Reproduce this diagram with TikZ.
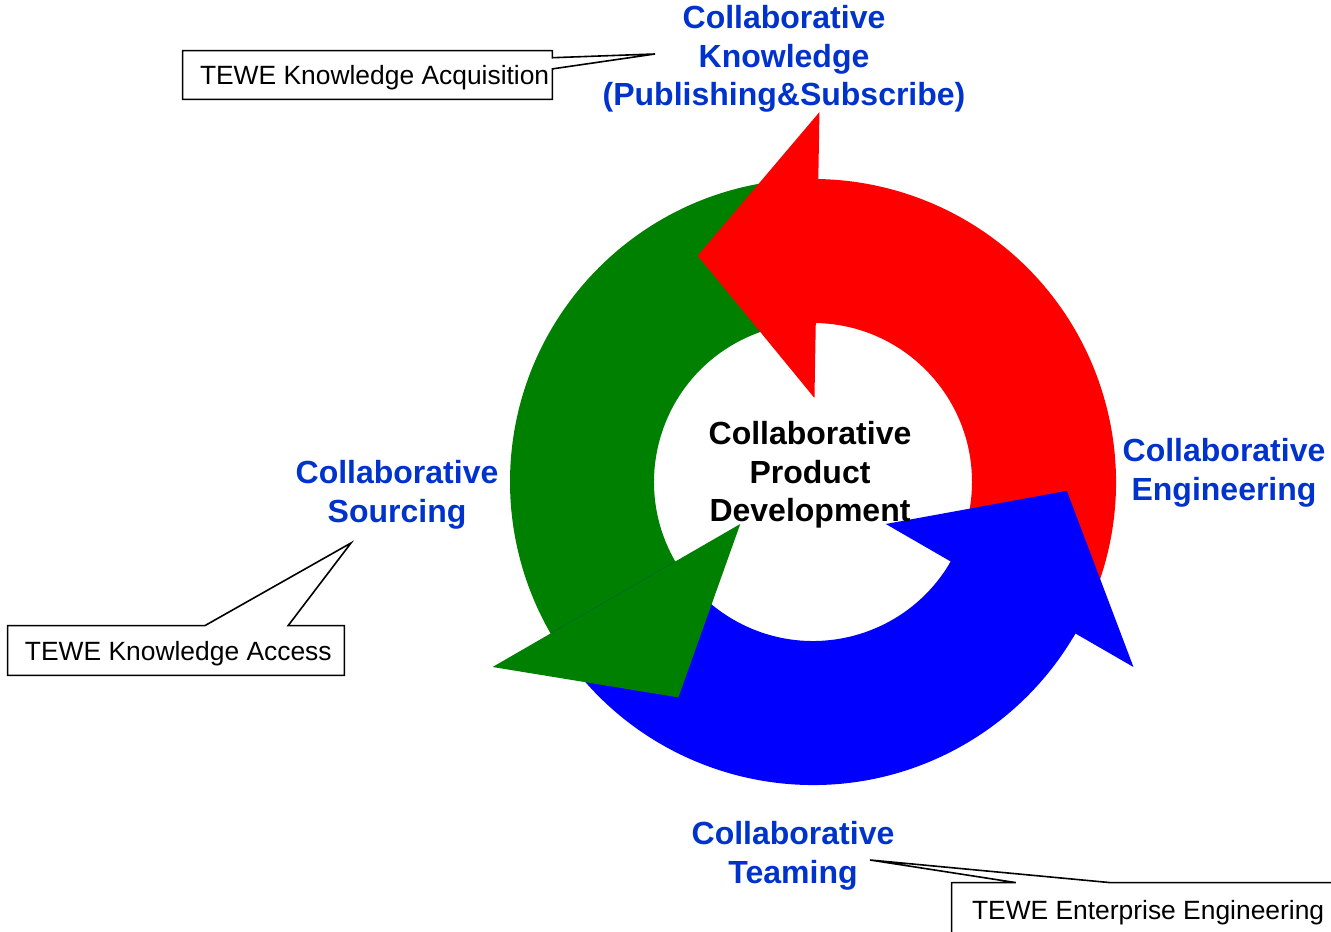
\documentclass[tikz,border=0pt]{standalone}
\usepackage{fontspec}
\setmainfont{Liberation Sans}
\usepackage{tikz}
\usetikzlibrary{calc}
\definecolor{arrowred}{RGB}{255,0,0}
\definecolor{arrowgreen}{RGB}{0,128,0}
\definecolor{arrowblue}{RGB}{0,0,255}
\definecolor{labelblue}{RGB}{0,51,204}

\begin{document}
\begin{tikzpicture}[x=0.5pt,y=0.5pt,
    cyclelabel/.style={text=labelblue, font=\fontsize{16}{19.25}\selectfont\bfseries, align=center},
    tewebox/.style={font=\fontsize{13.2}{15.8}\selectfont, inner sep=0pt, text depth=0pt},
    outline/.style={draw=black, line width=0.8pt, line join=miter}]
      % Sizes
      \pgfmathsetmacro{\outerr}{303}
      \pgfmathsetmacro{\innerr}{159}
      \pgfmathsetmacro{\barbout}{370}
      \pgfmathsetmacro{\barbin}{84}
      \pgfmathsetmacro{\tipr}{254}
      \pgfmathsetmacro{\tipang}{28}
      \useasboundingbox (0,0) rectangle (1331,931);
      \coordinate (c) at (813,449);

      % bands
      \foreach \base/\col in {89/arrowred,210/arrowgreen,330/arrowblue}{
        \fill[\col] ($(c)+(\base-120:\outerr)$) arc[start angle=\base-120, end angle=\base+1, radius=\outerr]
          -- ($(c)+(\base+1:\innerr)$) arc[start angle=\base+1, end angle=\base-120, radius=\innerr] -- cycle;
      }
      % heads
      \foreach \base/\col in {89/arrowred,210/arrowgreen,330/arrowblue}{
        \fill[\col] ($(c)+(\base:\barbin)$) -- ($(c)+(\base+\tipang:\tipr)$) -- ($(c)+(\base:\barbout)$) -- cycle;
      }

      % labels
      \node[cyclelabel, text=black] (cpd) at (810,456) {Collaborative\\Product\\Development};
      \node[cyclelabel] (know) at (784,872) {Collaborative\\Knowledge\\(Publishing\&Subscribe)};
      \node[cyclelabel] (eng) at (1224,458) {Collaborative\\Engineering};
      \node[cyclelabel] (sourcing) at (397,436) {Collaborative\\Sourcing};
      \node[cyclelabel] (teaming) at (793,75) {Collaborative\\Teaming};

      % callouts
      \node[tewebox, minimum height=24pt] (acq) at (367.5,856) {\makebox[184.5pt][l]{\hspace*{8.5pt}TEWE Knowledge Acquisition}};
      \node[tewebox, minimum height=24.5pt] (access) at (176,280.5) {\makebox[168pt][l]{\hspace*{8.5pt}TEWE Knowledge Access}};
      \node[tewebox, minimum height=27pt] (entbox) at (1148.5,21) {\makebox[196.5pt][l]{\hspace*{10pt}TEWE Enterprise Engineering}};
      \coordinate (acqtip) at (655,877);
      \coordinate (accesstip) at (351,388);
      \coordinate (enttip) at (870,71);
      \draw[outline] (acq.north west) -- (acq.north east) -- ($(acq.north east)!0.146!(acq.south east)$)
        -- (acqtip) -- ($(acq.north east)!0.375!(acq.south east)$) -- (acq.south east) -- (acq.south west) -- cycle;
      \draw[outline] (access.south west) -- (access.north west) -- ($(access.north west)!0.586!(access.north east)$)
        -- (accesstip) -- ($(access.north west)!0.833!(access.north east)$) -- (access.north east) -- (access.south east) -- cycle;
      \draw[outline] (entbox.south west) -- (entbox.north west) -- ($(entbox.north west)!0.163!(entbox.north east)$)
        -- (enttip) -- ($(entbox.north west)!0.402!(entbox.north east)$) -- (entbox.north east) -- (entbox.south east) -- cycle;
\end{tikzpicture}
\end{document}
